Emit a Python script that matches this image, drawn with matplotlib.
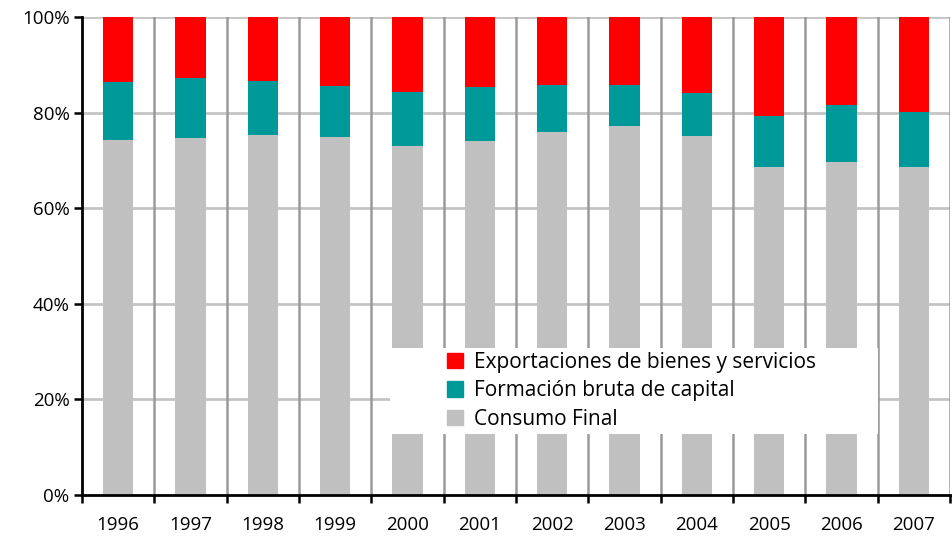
import matplotlib.pyplot as plt
from matplotlib.patches import Rectangle, Patch
import numpy as np

plt.rcParams['font.family'] = ['Open Sans', 'DejaVu Sans']

# datos (% del total)
years = ['1996', '1997', '1998', '1999', '2000', '2001',
         '2002', '2003', '2004', '2005', '2006', '2007']
consumo = [74.3, 74.7, 75.3, 75.0, 73.1, 74.1, 75.9, 77.2, 75.1, 68.6, 69.7, 68.6]
formacion = [12.2, 12.6, 11.3, 10.6, 11.2, 11.3, 9.9, 8.6, 9.0, 10.7, 11.9, 11.5]
exportaciones = [100 - c - f for c, f in zip(consumo, formacion)]

col_cons = '#c0c0c0'
col_form = '#009999'
col_exp = '#ff0000'

fig = plt.figure(figsize=(9.53, 5.38), dpi=100)
ax = fig.add_axes([0.086, 0.0799, 0.911, 0.888])

x = np.arange(len(years))
w = 0.42
ax.bar(x, consumo, w, color=col_cons, zorder=2)
ax.bar(x, formacion, w, bottom=consumo, color=col_form, zorder=2)
ax.bar(x, exportaciones, w, bottom=np.array(consumo) + np.array(formacion),
       color=col_exp, zorder=2)

# rejilla
for yv in [20, 40, 60, 80, 100]:
    ax.axhline(yv, color='#c4c4c4', lw=2, zorder=1)
for xv in np.arange(len(years)) + 0.5:
    ax.axvline(xv, color='#9a9a9a', lw=1.8, zorder=1)

ax.set_xlim(-0.5, len(years) - 0.5)
ax.set_ylim(0, 100)
ax.set_yticks([0, 20, 40, 60, 80, 100])
ax.set_yticklabels(['0%', '20%', '40%', '60%', '80%', '100%'], fontsize=13.5)
ax.set_xticks(np.arange(len(years) + 1) - 0.5)
ax.set_xticklabels([])
ax.set_xticks(x, minor=True)
ax.set_xticklabels(years, minor=True, fontsize=13.5)
ax.tick_params(axis='x', which='minor', length=0, pad=15)
ax.tick_params(axis='x', which='major', length=6, width=1.8, direction='out')
ax.tick_params(axis='y', length=6, width=1.8, direction='out', pad=3)

for s in ['top', 'right']:
    ax.spines[s].set_visible(False)
for s in ['left', 'bottom']:
    ax.spines[s].set_linewidth(2)
    ax.spines[s].set_zorder(4)

# caja de leyenda
ax.add_patch(Rectangle((0.355, 0.128), 0.562, 0.18, transform=ax.transAxes,
                       facecolor='white', edgecolor='none', zorder=3))
handles = [Patch(color=col_exp), Patch(color=col_form), Patch(color=col_cons)]
labels = ['Exportaciones de bienes y servicios', 'Formación bruta de capital',
          'Consumo Final']
leg = ax.legend(handles, labels, loc='center left', bbox_to_anchor=(0.421, 0.218),
                frameon=False, fontsize=15, handlelength=0.75, handleheight=0.75,
                handletextpad=0.5, labelspacing=0.35, borderpad=0, borderaxespad=0)
leg.set_zorder(5)

fig.savefig('out.png', dpi=100)
